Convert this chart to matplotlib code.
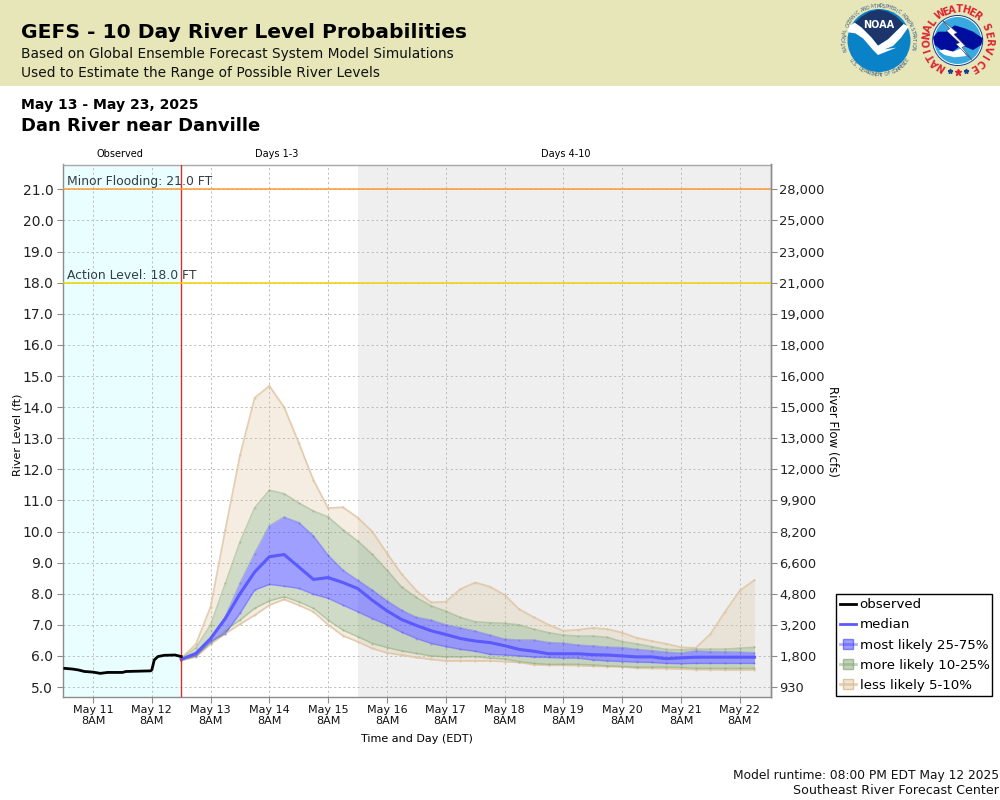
import matplotlib
matplotlib.use("Agg")
import numpy as np
import pandas as pd
import matplotlib.pyplot as plt
import matplotlib.dates as mdates
from matplotlib.lines import Line2D
from matplotlib.patches import Rectangle, Circle, Polygon

plt.rcParams['font.family'] = ['DejaVu Sans']

# ---- data ----
level_ticks = [5, 6, 7, 8, 9, 10, 11, 12, 13, 14, 15, 16, 17, 18, 19, 20, 21]
flow_labels = ['930', '1,800', '3,200', '4,800', '6,600', '8,200', '9,900', '12,000', '13,000',
               '15,000', '16,000', '18,000', '19,000', '21,000', '23,000', '25,000', '28,000']
day_ticks = ['May 11', 'May 12', 'May 13', 'May 14', 'May 15', 'May 16', 'May 17', 'May 18',
             'May 19', 'May 20', 'May 21', 'May 22']

obs_times = ['2025-05-10 20:30', '2025-05-10 23:30', '2025-05-11 02:00', '2025-05-11 04:30',
             '2025-05-11 08:00', '2025-05-11 11:00', '2025-05-11 14:00', '2025-05-11 20:00',
             '2025-05-11 21:30', '2025-05-12 07:30', '2025-05-12 08:00', '2025-05-12 09:00',
             '2025-05-12 10:30', '2025-05-12 13:00', '2025-05-12 17:30', '2025-05-12 20:00']
obs_level = [5.60, 5.58, 5.55, 5.50, 5.48, 5.44, 5.47, 5.47,
             5.50, 5.52, 5.55, 5.87, 5.98, 6.02, 6.03, 5.98]

p05 = [5.92, 6.38, 7.58, 10.05, 12.45, 14.3, 14.68, 14.0, 12.85, 11.65, 10.75, 10.78, 10.45, 10.0,
       9.3, 8.63, 8.1, 7.72, 7.74, 8.15, 8.36, 8.23, 7.96, 7.5, 7.24, 7.0, 6.81, 6.84, 6.9, 6.86,
       6.75, 6.58, 6.48, 6.39, 6.28, 6.26, 6.7, 7.42, 8.1, 8.44]
p10 = [5.91, 6.27, 7.0, 8.33, 9.67, 10.77, 11.33, 11.22, 10.92, 10.66, 10.47, 10.06, 9.7, 9.27,
       8.76, 8.22, 7.88, 7.61, 7.44, 7.24, 7.1, 7.07, 7.05, 7.0, 6.86, 6.75, 6.67, 6.64, 6.64, 6.6,
       6.46, 6.39, 6.3, 6.21, 6.2, 6.22, 6.22, 6.22, 6.25, 6.28]
p25 = [5.89, 6.1, 6.56, 7.26, 8.33, 9.29, 10.18, 10.46, 10.29, 9.86, 9.24, 8.76, 8.44, 8.12,
       7.77, 7.47, 7.24, 7.15, 7.0, 6.9, 6.8, 6.67, 6.54, 6.51, 6.51, 6.43, 6.41, 6.35, 6.32, 6.28,
       6.27, 6.21, 6.17, 6.12, 6.09, 6.16, 6.14, 6.13, 6.12, 6.1]
p50 = [5.89, 6.08, 6.56, 7.2, 8.0, 8.7, 9.19, 9.26, 8.86, 8.46, 8.52, 8.36, 8.17, 7.79,
       7.45, 7.17, 6.98, 6.81, 6.69, 6.56, 6.48, 6.43, 6.33, 6.21, 6.15, 6.07, 6.07, 6.07, 6.04, 6.03,
       6.0, 5.97, 5.97, 5.91, 5.94, 5.96, 5.96, 5.96, 5.96, 5.96]
p75 = [5.87, 6.0, 6.46, 6.72, 7.37, 8.12, 8.3, 8.24, 8.17, 7.98, 7.85, 7.63, 7.42, 7.2,
       7.0, 6.76, 6.56, 6.4, 6.3, 6.21, 6.15, 6.05, 6.03, 6.0, 5.96, 5.95, 5.93, 5.93, 5.87, 5.84,
       5.82, 5.8, 5.79, 5.76, 5.75, 5.76, 5.76, 5.76, 5.76, 5.76]
p90 = [5.87, 6.0, 6.42, 6.83, 7.15, 7.53, 7.77, 7.9, 7.74, 7.53, 7.15, 6.83, 6.62, 6.4,
       6.27, 6.16, 6.08, 6.0, 5.97, 5.97, 5.98, 5.93, 5.9, 5.82, 5.76, 5.73, 5.73, 5.73, 5.71, 5.68,
       5.66, 5.64, 5.64, 5.64, 5.63, 5.6, 5.6, 5.6, 5.6, 5.6]
p95 = [5.85, 5.97, 6.38, 6.72, 7.02, 7.31, 7.63, 7.82, 7.63, 7.42, 7.0, 6.65, 6.46, 6.24,
       6.1, 6.03, 5.95, 5.89, 5.84, 5.84, 5.84, 5.84, 5.82, 5.79, 5.72, 5.7, 5.7, 5.69, 5.67, 5.66,
       5.65, 5.61, 5.6, 5.59, 5.58, 5.56, 5.56, 5.55, 5.55, 5.55]

MINOR_STAGE = 21.0
ACTION_STAGE = 18.0

# ---- figure ----
W, H = 1000, 800
fig = plt.figure(figsize=(10, 8), dpi=100, facecolor='white')

def ax_rect(l, t, r, b):
    return [l / W, 1 - b / H, (r - l) / W, (b - t) / H]

ax = fig.add_axes(ax_rect(63, 164.5, 771, 697))
GRAY = '#8c8c8c'
ax.set_ylim(4.68, 21.8)
t_now = pd.Timestamp('2025-05-12 20:00')
t_d4 = pd.Timestamp('2025-05-15 20:00')
ax.set_xlim(mdates.date2num(pd.Timestamp('2025-05-10 19:45')), mdates.date2num(pd.Timestamp('2025-05-22 20:45')))

ax.axvspan(ax.get_xlim()[0], mdates.date2num(t_now), color='#e9ffff', lw=0, zorder=0)
ax.axvspan(mdates.date2num(t_d4), ax.get_xlim()[1], color='#efefef', lw=0, zorder=0)

day_pos = [mdates.date2num(pd.Timestamp('2025-05-11 08:00') + pd.Timedelta(days=i)) for i in range(len(day_ticks))]
ax.set_xticks(day_pos)
ax.set_xticklabels([d + '\n8AM' for d in day_ticks], fontsize=8, linespacing=1.05, color='#111111')
ax.set_yticks(level_ticks)
ax.set_yticklabels([f'{v:.1f}' for v in level_ticks], fontsize=10, color='#222222')
ax.tick_params(axis='both', length=4, color=GRAY, width=0.8)
ax.tick_params(axis='y', pad=3)
ax.tick_params(axis='x', pad=2)
ax.grid(True, color='#bdbdbd', linestyle=(0, (2.2, 2.6)), linewidth=0.7, zorder=1)
ax.set_axisbelow(True)
for side, s in ax.spines.items():
    s.set_color('#a8a8a8' if side == 'top' else GRAY)
    s.set_linewidth(1.0)

ax2 = ax.twinx()
ax2.set_ylim(ax.get_ylim())
ax2.set_yticks(level_ticks)
ax2.set_yticklabels(flow_labels, fontsize=9.4, color='#222222')
ax2.tick_params(axis='y', length=4, color=GRAY, width=0.8, pad=2)
for side, s in ax2.spines.items():
    s.set_visible(side == 'right')
    s.set_color(GRAY)
    s.set_linewidth(1.0)

fx = mdates.date2num(pd.date_range('2025-05-12 20:00', periods=len(p50), freq='6h'))
ox = mdates.date2num(pd.to_datetime(obs_times))

TAN = (222 / 255, 196 / 255, 160 / 255)
GREEN = (135 / 255, 167 / 255, 117 / 255)
BLUE = (64 / 255, 64 / 255, 255 / 255)

ax.fill_between(fx, p10, p05, color=TAN, alpha=0.3, lw=0, zorder=3)
ax.fill_between(fx, p95, p90, color=TAN, alpha=0.3, lw=0, zorder=3)
ax.fill_between(fx, p25, p10, color=GREEN, alpha=0.4, lw=0, zorder=3)
ax.fill_between(fx, p90, p75, color=GREEN, alpha=0.4, lw=0, zorder=3)
ax.fill_between(fx, p75, p25, color=BLUE, alpha=0.5, lw=0, zorder=3)
for s in (p05, p95):
    ax.plot(fx, s, color=TAN, alpha=0.8, lw=1.3, marker='o', ms=1.6, mew=0, zorder=4)
for s in (p10, p90):
    ax.plot(fx, s, color=GREEN, alpha=0.45, lw=1.1, marker='o', ms=1.6, mew=0, zorder=4)
for s in (p25, p75):
    ax.plot(fx, s, color=BLUE, alpha=0.3, lw=1.1, marker='o', ms=1.6, mew=0, zorder=4)
ax.plot(fx, p50, color='#5a5aff', lw=2.2, zorder=5)
ax.plot(ox, obs_level, color='black', lw=2.0, zorder=6)
ax.axvline(mdates.date2num(t_now), color='#d83030', lw=1.0, zorder=5)
ax.axhline(MINOR_STAGE, color='#ff9a2e', lw=1.1, zorder=5)
ax.axhline(ACTION_STAGE, color='#f5d000', lw=1.1, zorder=5)

x_left = ax.get_xlim()[0]
ax.annotate(f'Minor Flooding: {MINOR_STAGE:.1f} FT', (x_left, MINOR_STAGE), xytext=(4, 1), textcoords='offset pixels',
            fontsize=8.9, color='#333d44', zorder=7, va='bottom')
ax.annotate(f'Action Level: {ACTION_STAGE:.1f} FT', (x_left, ACTION_STAGE), xytext=(4, 1), textcoords='offset pixels',
            fontsize=8.9, color='#333d44', zorder=7, va='bottom')

ax.set_xlabel('Time and Day (EDT)', fontsize=8, labelpad=6)

handles = [
    Line2D([], [], color='black', lw=2),
    Line2D([], [], color='#5a5aff', lw=2),
    Line2D([], [], color=(*BLUE, 0.4), lw=2, marker='s', ms=6.5, mfc=(*BLUE, 0.5), mec=(*BLUE, 0.6)),
    Line2D([], [], color=(*GREEN, 0.5), lw=2, marker='s', ms=6.5, mfc=(*GREEN, 0.5), mec=(*GREEN, 0.7)),
    Line2D([], [], color=(*TAN, 0.8), lw=2, marker='s', ms=6.5, mfc=(*TAN, 0.45), mec=(*TAN, 1.0)),
]
fig.legend(handles, ['observed', 'median', 'most likely 25-75%', 'more likely 10-25%', 'less likely 5-10%'],
           loc='lower left', bbox_to_anchor=(836 / W, 1 - 696 / H, 156 / W, 105 / H), mode='expand',
           fontsize=9.65, frameon=True, fancybox=False, edgecolor='black', framealpha=1,
           borderpad=0.32, labelspacing=0.53, handlelength=1.15, handletextpad=0.3, borderaxespad=0)

# ---- page overlay in pixel coordinates ----
pg = fig.add_axes([0, 0, 1, 1], zorder=-1)
pg.set_xlim(0, W); pg.set_ylim(H, 0); pg.axis('off')
pg.add_patch(Rectangle((0, 0), W, 86, color='#e6e6b9', lw=0))

top = fig.add_axes([0, 0, 1, 1], zorder=10)
top.set_xlim(0, W); top.set_ylim(H, 0); top.axis('off'); top.patch.set_alpha(0)

top.text(21, 33, 'GEFS - 10 Day River Level Probabilities', fontsize=14.6, fontweight='bold', va='center', color='black')
top.text(21, 54, 'Based on Global Ensemble Forecast System Model Simulations', fontsize=9.93, va='center', color='#111111')
top.text(21, 73, 'Used to Estimate the Range of Possible River Levels', fontsize=9.93, va='center', color='#111111')
top.text(21, 105, 'May 13 - May 23, 2025', fontsize=10.1, fontweight='bold', va='center', color='black')
top.text(21, 126, 'Dan River near Danville', fontsize=13, fontweight='bold', va='center', color='black')
top.text(120, 154, 'Observed', fontsize=7, ha='center', va='center')
top.text(276.5, 154, 'Days 1-3', fontsize=7, ha='center', va='center')
top.text(566, 154, 'Days 4-10', fontsize=7, ha='center', va='center')
top.text(999, 775, 'Model runtime: 08:00 PM EDT May 12 2025', fontsize=8.85, ha='right', va='center', color='#111111')
top.text(999, 791, 'Southeast River Forecast Center', fontsize=9.05, ha='right', va='center', color='#111111')
top.text(18, 435, 'River Level (ft)', fontsize=8, rotation=90, ha='center', va='center')
top.text(832, 431, 'River Flow (cfs)', fontsize=8.5, rotation=270, ha='center', va='center')

def ring(text, cx, cy, r, a0, a1, size, color, bold=False, bottom=False):
    angs = np.linspace(a0, a1, len(text))
    for ch, a in zip(text, angs):
        x = cx + r * np.cos(np.radians(a))
        y = cy - r * np.sin(np.radians(a))
        rot = a + 90 if bottom else a - 90
        top.text(x, y, ch, fontsize=size, color=color, rotation=rot, ha='center', va='center',
                 fontweight='bold' if bold else 'normal', rotation_mode='anchor')

def from_crop(points, ox_, oy_):
    return [(ox_ + px / 3, oy_ + py / 3) for px, py in points]

# NOAA logo
nx, ny = 879, 40.5
top.add_patch(Circle((nx, ny), 31.5, color='#0a82c8', lw=0))
top.add_patch(Polygon(from_crop([(50, 68), (70, 50), (95, 35), (122, 29), (150, 35), (175, 50), (197, 72),
                                 (150, 118), (120, 137), (100, 112), (70, 82)], 838, 0),
                      color='#1c356b', lw=0))
top.add_patch(Polygon(from_crop([(32, 80), (50, 68), (70, 82), (100, 112), (120, 137), (150, 118), (197, 72),
                                 (212, 80), (190, 112), (165, 138), (140, 148), (175, 143), (120, 165),
                                 (105, 150), (75, 115), (52, 100), (30, 97)], 838, 0),
                      color='white', lw=0))
top.text(nx, 25.5, 'NOAA', fontsize=7, color='white', fontweight='bold', ha='center', va='center')
ring('NATIONAL OCEANIC AND ATMOSPHERIC ADMINISTRATION', nx, ny, 34.5, 195, -12, 3.4, '#3a5a80')
ring('U.S. DEPARTMENT OF COMMERCE', nx, ny, 34.5, 215, 325, 3.4, '#3a5a80', bottom=True)

# NWS logo
wx, wy = 957.7, 40.5
top.add_patch(Circle((wx, wy), 25.5, color='#1c3f90', lw=0))
top.add_patch(Circle((wx, wy), 24.5, color='white', lw=0))
top.add_patch(Circle((wx, wy), 23.5, color='#38a9de', lw=0))
top.add_patch(Polygon(from_crop([(45, 112), (60, 95), (85, 95), (110, 76), (140, 85), (165, 95), (195, 115),
                                 (190, 135), (165, 150), (130, 135), (105, 155), (70, 150), (50, 135)], 918, 0),
                      color='#000c9c', lw=0))
top.add_patch(Polygon(from_crop([(62, 152), (80, 148), (105, 155), (130, 145), (145, 168), (110, 172), (80, 165)], 918, 0),
                      color='white', lw=0))
top.add_patch(Polygon(from_crop([(72, 60), (118, 98), (108, 103), (142, 138), (132, 142), (162, 180),
                                 (114, 132), (124, 128), (85, 92), (95, 86)], 918, 0),
                      facecolor='white', edgecolor='#404060', lw=0.4))
ring('NATIONAL', wx, wy, 31, 238, 144, 7, '#dc2430', bold=True)
ring('WEATHER', wx, wy, 31, 124, 51, 7, '#dc2430', bold=True)
ring('SERVICE', wx, wy, 31, 25, -59, 7, '#dc2430', bold=True)
top.plot([949.7, 966.3], [71, 71], marker='*', color='#1c3f90', ms=3.5, lw=0)
top.plot([958], [71.7], marker='*', color='#dc2430', ms=5, lw=0)
top.set_xlim(0, W); top.set_ylim(H, 0)

fig.savefig('out.png', dpi=100, facecolor='white')
